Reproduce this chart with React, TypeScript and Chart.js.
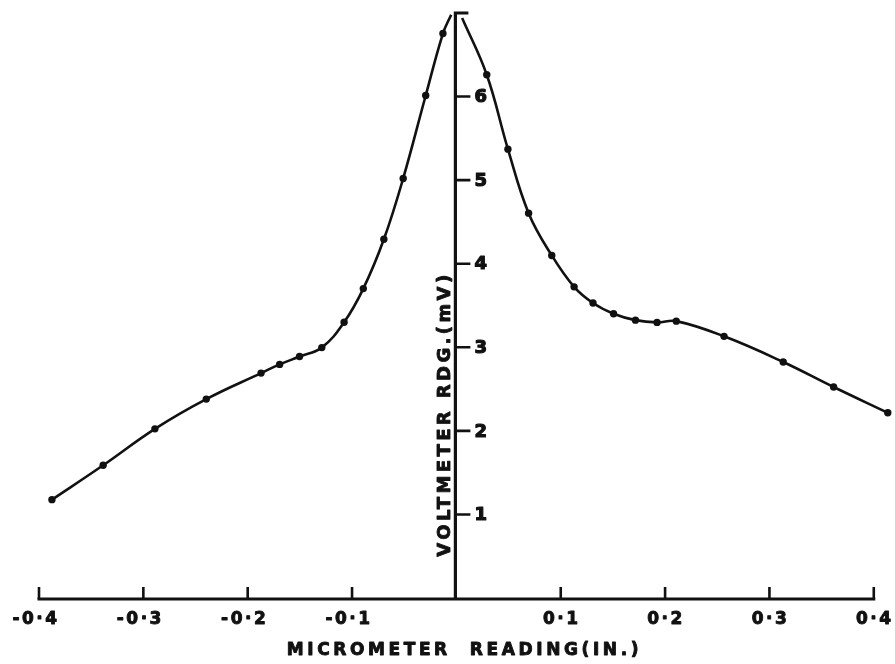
import React, { useEffect, useRef } from "react";
import { Chart, registerables } from "chart.js";

Chart.register(...registerables);

// ---- data ----
const leftX = [-0.3876, -0.3385, -0.2889, -0.2397, -0.1872, -0.1694, -0.1503, -0.129, -0.1076, -0.0892, -0.0695, -0.051, -0.0294, -0.0129];
const leftY = [1.177, 1.588, 2.024, 2.38, 2.691, 2.795, 2.889, 2.996, 3.3, 3.702, 4.292, 5.02, 6.013, 6.754];
const rightX = [0.0291, 0.0494, 0.0692, 0.0914, 0.1128, 0.1309, 0.1506, 0.1716, 0.1923, 0.2107, 0.2565, 0.3132, 0.3615, 0.4134];
const rightY = [6.261, 5.371, 4.605, 4.099, 3.723, 3.53, 3.402, 3.325, 3.298, 3.313, 3.131, 2.824, 2.525, 2.217];
// where the drawn curve leaves the top of the frame on each side of the peak
const peakLeftEnd = { x: -0.005, y: 6.98 };
const peakRightEnd = { x: 0.0055, y: 6.94 };

const xTicks = [-0.4, -0.3, -0.2, -0.1, 0.1, 0.2, 0.3, 0.4];
const xTickLabels = ["-0·4", "-0·3", "-0·2", "-0·1", "0·1", "0·2", "0·3", "0·4"];
const yTicks = [1, 2, 3, 4, 5, 6];
const yTickLabels = ["1", "2", "3", "4", "5", "6"];
const xMin = -0.4;
const xMax = 0.4165;
const yMin = 0;
const yMax = 7;
const xTitle = "MICROMETER  READING(IN.)";
const yTitle = "VOLTMETER RDG.(mV)";

const INK = "#111111";
const FONT = '"DejaVu Sans", "Liberation Sans", sans-serif';

function heavyText(ctx: CanvasRenderingContext2D, text: string, x: number, y: number, w: number) {
  ctx.lineWidth = w;
  ctx.strokeText(text, x, y);
  ctx.fillText(text, x, y);
}

const paperAxes = {
  id: "paperAxes",
  beforeDatasetsDraw(chart: any) {
    const { ctx } = chart;
    const xs = chart.scales.x;
    const ys = chart.scales.y;
    const x0 = xs.getPixelForValue(0);
    const y0 = ys.getPixelForValue(yMin);
    const yTop = ys.getPixelForValue(yMax);
    const xL = xs.getPixelForValue(xTicks[0]);
    const xR = xs.getPixelForValue(xTicks[xTicks.length - 1]);
    ctx.save();
    ctx.strokeStyle = INK;
    ctx.fillStyle = INK;
    ctx.lineCap = "butt";
    ctx.lineJoin = "miter";

    // x axis line
    ctx.lineWidth = 3;
    ctx.beginPath();
    ctx.moveTo(xL - 1.5, y0 + 1);
    ctx.lineTo(xR + 1.5, y0 + 1);
    ctx.stroke();
    // x ticks (pointing up)
    ctx.lineWidth = 2.6;
    ctx.beginPath();
    for (const v of xTicks) {
      const px = xs.getPixelForValue(v);
      ctx.moveTo(px, y0 + 1);
      ctx.lineTo(px, y0 - 11);
    }
    ctx.stroke();

    // y axis line with cap at the top
    ctx.lineWidth = 3.2;
    ctx.beginPath();
    ctx.moveTo(x0 - 1, y0 + 2);
    ctx.lineTo(x0 - 1, yTop);
    ctx.lineTo(x0 + 12, yTop);
    ctx.stroke();
    // y ticks (pointing right)
    ctx.lineWidth = 2.6;
    ctx.beginPath();
    for (const v of yTicks) {
      const py = ys.getPixelForValue(v);
      ctx.moveTo(x0, py);
      ctx.lineTo(x0 + 14, py);
    }
    ctx.stroke();

    ctx.lineJoin = "round";

    // x tick labels
    ctx.font = `bold 17px ${FONT}`;
    (ctx as any).letterSpacing = "2.5px";
    ctx.textAlign = "center";
    ctx.textBaseline = "middle";
    xTicks.forEach((v, i) => {
      const px = xs.getPixelForValue(v) + (v < 0 ? -3 : 1);
      heavyText(ctx, xTickLabels[i], px, y0 + 22, 0.9);
    });

    // y tick labels
    ctx.font = `bold 18px ${FONT}`;
    (ctx as any).letterSpacing = "0px";
    ctx.textAlign = "left";
    yTicks.forEach((v, i) => {
      const py = ys.getPixelForValue(v);
      heavyText(ctx, yTickLabels[i], x0 + 18, py + 1, 1.2);
    });

    // x title
    ctx.font = `bold 17px ${FONT}`;
    (ctx as any).letterSpacing = "3.6px";
    ctx.textAlign = "center";
    heavyText(ctx, xTitle, x0 + 8, y0 + 53, 0.9);

    // y title (rotated)
    ctx.save();
    ctx.translate(x0 - 11, ys.getPixelForValue(2.2));
    ctx.rotate(-Math.PI / 2);
    ctx.font = `bold 18px ${FONT}`;
    (ctx as any).letterSpacing = "3.4px";
    ctx.textAlign = "center";
    ctx.textBaseline = "middle";
    heavyText(ctx, yTitle, 0, 0, 0.9);
    ctx.restore();

    ctx.restore();
  },
};

export default function App() {
  const ref = useRef<HTMLCanvasElement | null>(null);

  useEffect(() => {
    if (!ref.current) return;
    const leftPts = leftX.map((x, i) => ({ x, y: leftY[i] }));
    const rightPts = rightX.map((x, i) => ({ x, y: rightY[i] }));
    const chart = new Chart(ref.current, {
      type: "scatter",
      data: {
        datasets: [
          {
            label: "curve-left",
            data: [...leftPts, peakLeftEnd],
            showLine: true,
            borderColor: INK,
            borderWidth: 2.6,
            pointRadius: 0,
            tension: 0.4,
            clip: false,
          } as any,
          {
            label: "curve-right",
            data: [peakRightEnd, ...rightPts],
            showLine: true,
            borderColor: INK,
            borderWidth: 2.6,
            pointRadius: 0,
            tension: 0.4,
            clip: false,
          } as any,
          {
            label: "readings",
            data: [...leftPts, ...rightPts],
            showLine: false,
            pointRadius: 3.7,
            pointBackgroundColor: INK,
            pointBorderWidth: 0,
            clip: false,
          } as any,
        ],
      },
      options: {
        animation: false,
        responsive: false,
        devicePixelRatio: 1,
        events: [],
        layout: { padding: { left: 39, right: 0, top: 13, bottom: 66 } },
        plugins: { legend: { display: false }, tooltip: { enabled: false }, title: { display: false } },
        scales: {
          x: { type: "linear", min: xMin, max: xMax, display: false },
          y: { type: "linear", min: yMin, max: yMax, display: false },
        },
      },
      plugins: [paperAxes],
    });
    return () => chart.destroy();
  }, []);

  return (
    <div style={{ position: "fixed", left: 0, top: 0, width: 895, height: 664, background: "#ffffff" }}>
      <canvas ref={ref} width={895} height={664} style={{ display: "block", width: 895, height: 664 }} />
    </div>
  );
}
